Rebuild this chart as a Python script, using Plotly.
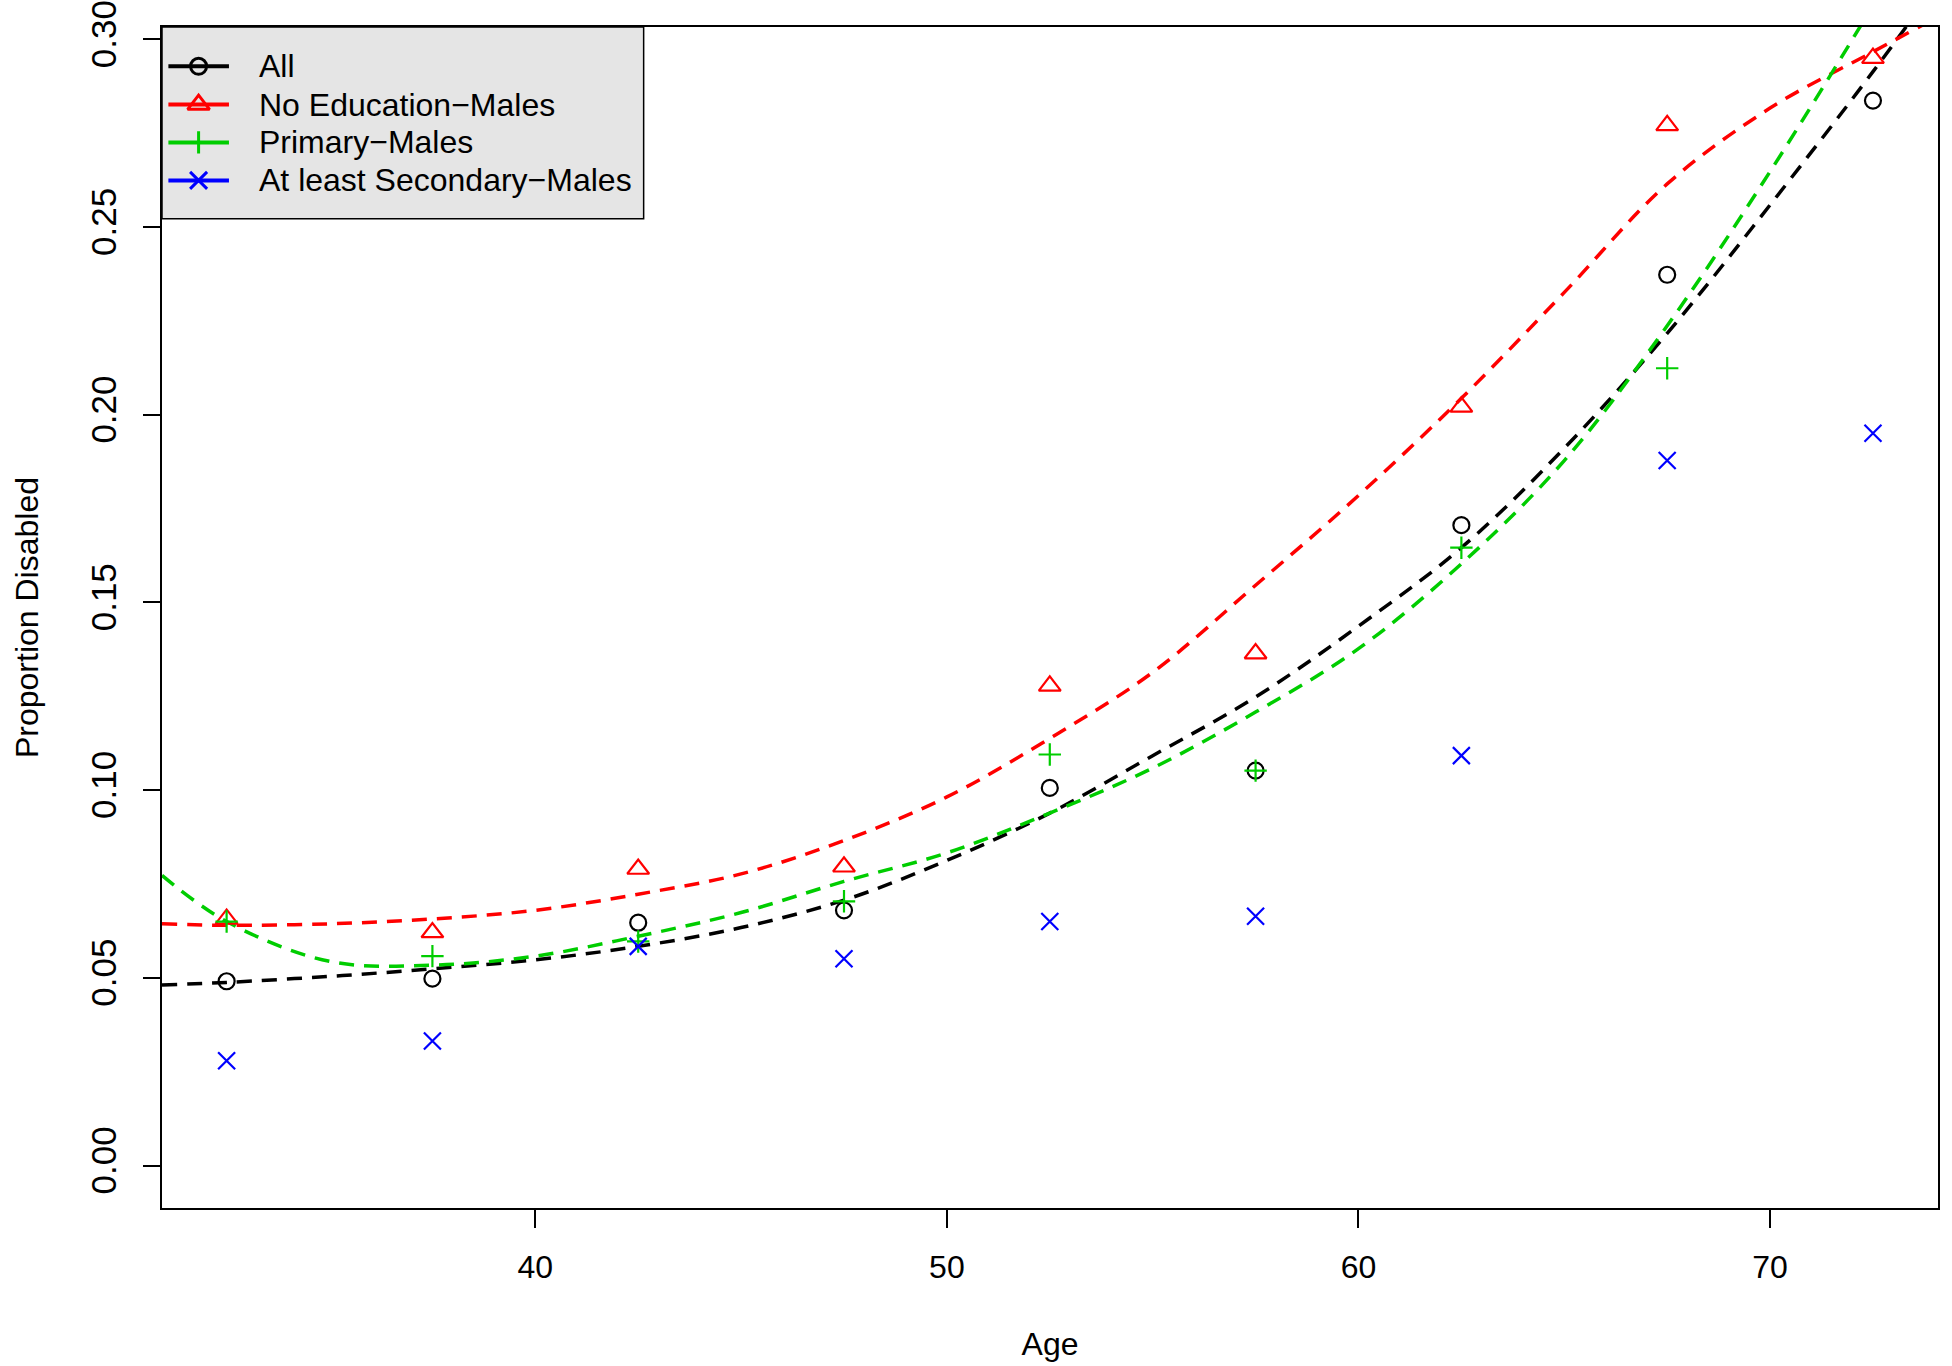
import plotly.graph_objects as go

# ---- data ----
age = [32.5, 37.5, 42.5, 47.5, 52.5, 57.5, 62.5, 67.5, 72.5]
all_prop = [0.0491, 0.0498, 0.0647, 0.0680, 0.1006, 0.1052, 0.1706, 0.2373, 0.2837]
noedu_prop = [0.0657, 0.0621, 0.0790, 0.0796, 0.1278, 0.1364, 0.2021, 0.2771, 0.2950]
primary_prop = [0.0650, 0.0558, 0.0597, 0.0704, 0.1095, 0.1052, 0.1646, 0.2124, 0.3150]
secondary_prop = [0.0279, 0.0332, 0.0584, 0.0551, 0.0650, 0.0664, 0.1092, 0.1878, 0.1951]

# fitted curves
fit_age = [30.93, 32.5, 35, 37.5, 40, 42.5, 45, 47.5, 50, 52.5, 55, 57.5, 60,
           62.5, 65, 67.5, 70, 72.5, 74.08]
fit_all = [0.0481, 0.0488, 0.0504, 0.0524, 0.0548, 0.0584, 0.0634, 0.0707, 0.0813,
           0.0939, 0.1092, 0.1248, 0.1437, 0.1646, 0.1911, 0.2217, 0.2559, 0.2914, 0.3150]
fit_noedu = [0.0644, 0.0640, 0.0644, 0.0657, 0.0680, 0.0723, 0.0777, 0.0866, 0.0982,
             0.1138, 0.1314, 0.1546, 0.1785, 0.2044, 0.2326, 0.2615, 0.2817, 0.2967, 0.3060]
fit_primary = [0.0773, 0.0650, 0.0544, 0.0534, 0.0558, 0.0611, 0.0674, 0.0757, 0.0833,
               0.0939, 0.1059, 0.1208, 0.1377, 0.1603, 0.1878, 0.2237, 0.2648, 0.3090, 0.3380]

x_ticks = [40, 50, 60, 70]
y_ticks = [0.0, 0.05, 0.10, 0.15, 0.20, 0.25, 0.30]
y_ticktext = ["0.00", "0.05", "0.10", "0.15", "0.20", "0.25", "0.30"]

names = ["All", "No Education\u2212Males", "Primary\u2212Males", "At least Secondary\u2212Males"]
colors = ["#000000", "#FF0000", "#00CD00", "#0000FF"]
symbols = ["circle-open", "triangle-up-open", "cross-thin-open", "x-thin-open"]
sizes = [16, 19, 16, 17]
point_series = [all_prop, noedu_prop, primary_prop, secondary_prop]
fit_series = [fit_all, fit_noedu, fit_primary]

FONT = "Liberation Sans, Arial, sans-serif"
fig = go.Figure()

# dashed fitted curves
for ys, c in zip(fit_series, colors):
    fig.add_trace(go.Scatter(x=fit_age, y=ys, mode="lines", showlegend=False,
                             line=dict(color=c, width=3.5, dash="15px,10px", shape="spline"),
                             hoverinfo="skip"))

# points
for ys, c, s, sz in zip(point_series, colors, symbols, sizes):
    fig.add_trace(go.Scatter(x=age, y=ys, mode="markers", showlegend=False,
                             marker=dict(symbol=s, size=sz, color=c,
                                         line=dict(color=c, width=2.2))))

# ---- R-style legend drawn in plot-fraction coordinates (overlay axes) ----
leg_left, leg_right, leg_top, leg_bottom = 0.0, 0.2712, 1.0, 0.8377
row_y = [0.9667, 0.9343, 0.9023, 0.8701]
seg_x0, seg_x1, sym_x, text_x = 0.0036, 0.0377, 0.0206, 0.0537

fig.add_shape(type="rect", xref="x domain", yref="y domain",
              x0=leg_left, x1=leg_right, y0=leg_bottom, y1=leg_top,
              fillcolor="#E5E5E5", line=dict(color="black", width=1.5), layer="below")

for n, c, s, sz, ry in zip(names, colors, symbols, sizes, row_y):
    fig.add_trace(go.Scatter(x=[seg_x0, seg_x1], y=[ry, ry], xaxis="x2", yaxis="y2",
                             mode="lines", showlegend=False, hoverinfo="skip",
                             line=dict(color=c, width=4)))
    fig.add_trace(go.Scatter(x=[sym_x], y=[ry], xaxis="x2", yaxis="y2",
                             mode="markers", showlegend=False, hoverinfo="skip",
                             marker=dict(symbol=s, size=sz, color=c, line=dict(color=c, width=3))))
    fig.add_annotation(x=text_x, y=ry, xref="x domain", yref="y domain", text=n,
                       showarrow=False, xanchor="left", yanchor="middle",
                       font=dict(size=32, family=FONT, color="black"))

fig.update_layout(
    width=1952, height=1366,
    margin=dict(l=162, r=14, t=27, b=158, autoexpand=False),
    paper_bgcolor="white", plot_bgcolor="rgba(0,0,0,0)",
    font=dict(family=FONT, size=32, color="black"),
    showlegend=False,
    xaxis=dict(range=[30.93, 74.08], tickvals=x_ticks, automargin=False,
               showgrid=False, zeroline=False, showline=True, mirror=True,
               linecolor="black", linewidth=2, ticks="outside", ticklen=18,
               tickwidth=2, tickcolor="black", ticklabelstandoff=12,
               ticklabeloverflow="allow",
               tickfont=dict(size=32, family=FONT),
               title=dict(text="Age", font=dict(size=32, family=FONT), standoff=48)),
    yaxis=dict(range=[-0.0113, 0.3033], tickvals=y_ticks, ticktext=y_ticktext,
               tickangle=-90, automargin=False,
               showgrid=False, zeroline=False, showline=True, mirror=True,
               linecolor="black", linewidth=2, ticks="outside", ticklen=17,
               tickwidth=2, tickcolor="black", ticklabelstandoff=13,
               ticklabeloverflow="allow",
               tickfont=dict(size=35, family=FONT),
               title=dict(text="Proportion Disabled", font=dict(size=32, family=FONT), standoff=36)),
    xaxis2=dict(overlaying="x", range=[0, 1], visible=False, fixedrange=True),
    yaxis2=dict(overlaying="y", range=[0, 1], visible=False, fixedrange=True),
)

fig.write_html("out.html", config={"displayModeBar": False},
               post_script="document.body.style.margin='0';")
